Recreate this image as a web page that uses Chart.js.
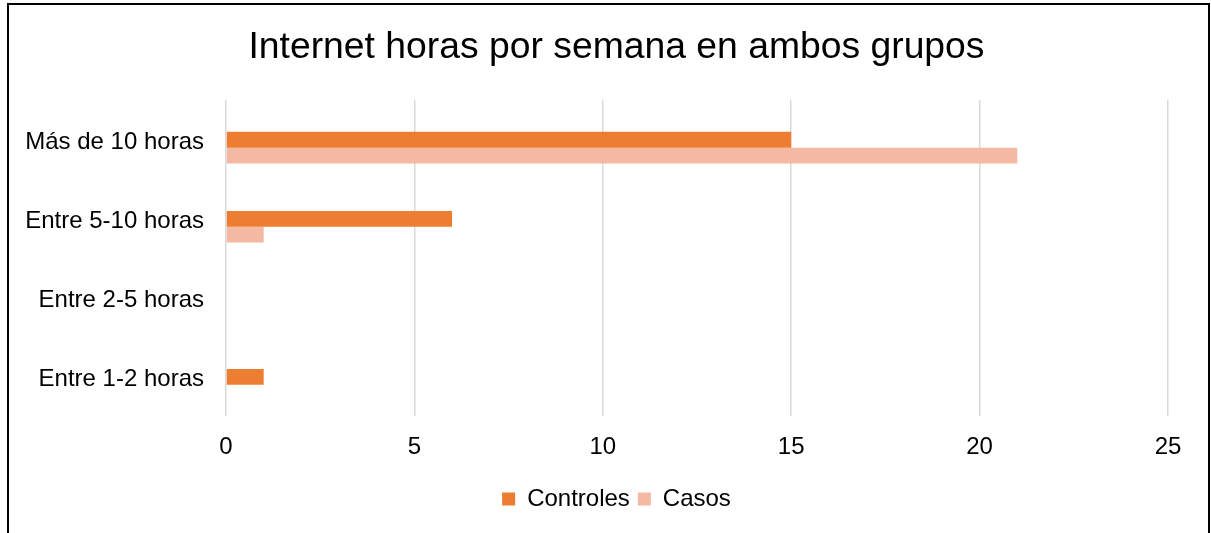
<!DOCTYPE html>
<html>
<head>
<meta charset="utf-8">
<script src="https://cdn.jsdelivr.net/npm/chart.js@4"></script>
<style>
  html, body { margin: 0; padding: 0; background: #fff; overflow: hidden; }
  #box {
    position: absolute; left: 7px; top: 3px;
    width: 1203px; height: 545px;
    border: 2px solid #000; box-sizing: border-box;
  }
  #wrap { position: relative; width: 1199px; height: 541px; }
</style>
</head>
<body>
<div id="box"><div id="wrap"><canvas id="myChart"></canvas></div></div>
<script>
const categories = ["Más de 10 horas", "Entre 5-10 horas", "Entre 2-5 horas", "Entre 1-2 horas"];
const controles = [15, 6, 0, 1];
const casos = [21, 1, 0, 0];
const xTicks = [0, 5, 10, 15, 20, 25];

const FONT = "'Liberation Sans', Arial, sans-serif";

// las etiquetas del eje y son más anchas que el eje: no recortarlas
const noClipY = {
  id: "noClipY",
  afterLayout(chart) {
    chart.scales.y.left = 0;
  },
};

const ctx = document.getElementById("myChart");
new Chart(ctx, {
  type: "bar",
  data: {
    datasets: [
      {
        label: "Controles",
        data: controles.map((v, i) => ({ x: v, y: i })),
        backgroundColor: "#ED7D31",
        borderWidth: 0,
        categoryPercentage: 0.4,
        barPercentage: 1.0,
      },
      {
        label: "Casos",
        data: casos.map((v, i) => ({ x: v, y: i })),
        backgroundColor: "#F4B9A2",
        borderWidth: 0,
        categoryPercentage: 0.4,
        barPercentage: 1.0,
      },
    ],
  },
  plugins: [noClipY],
  options: {
    indexAxis: "y",
    responsive: true,
    maintainAspectRatio: false,
    animation: false,
    layout: { padding: { left: 56, right: 40, top: 0, bottom: 25 } },
    plugins: {
      title: {
        display: true,
        text: "Internet horas por semana en ambos grupos",
        color: "#000",
        font: { family: FONT, size: 37.3, weight: "normal" },
        padding: { top: 20, bottom: 30 },
      },
      legend: {
        position: "bottom",
        labels: {
          color: "#000",
          font: { family: FONT, size: 24 },
          boxWidth: 13,
          boxHeight: 13,
          padding: 8,
        },
      },
      tooltip: { enabled: false },
    },
    scales: {
      x: {
        type: "linear",
        min: 0,
        max: 25,
        afterBuildTicks: (scale) => {
          scale.ticks = xTicks.map((v) => ({ value: v }));
        },
        grid: { color: "#D9D9D9", lineWidth: 1.5, drawTicks: false },
        border: { display: false },
        ticks: {
          color: "#000",
          font: { family: FONT, size: 24 },
          padding: 17,
        },
      },
      y: {
        type: "linear",
        reverse: true,
        offset: false,
        min: -0.606,
        max: 3.398,
        afterBuildTicks: (scale) => {
          scale.ticks = categories.map((c, i) => ({ value: i }));
        },
        grid: { display: false, drawTicks: false },
        border: { display: false },
        afterFit: (scale) => {
          scale.width = 161;
        },
        ticks: {
          color: "#000",
          font: { family: FONT, size: 24 },
          padding: 22,
          labelOffset: -5,
          callback: (v) => categories[v],
        },
      },
    },
  },
});
</script>
</body>
</html>
